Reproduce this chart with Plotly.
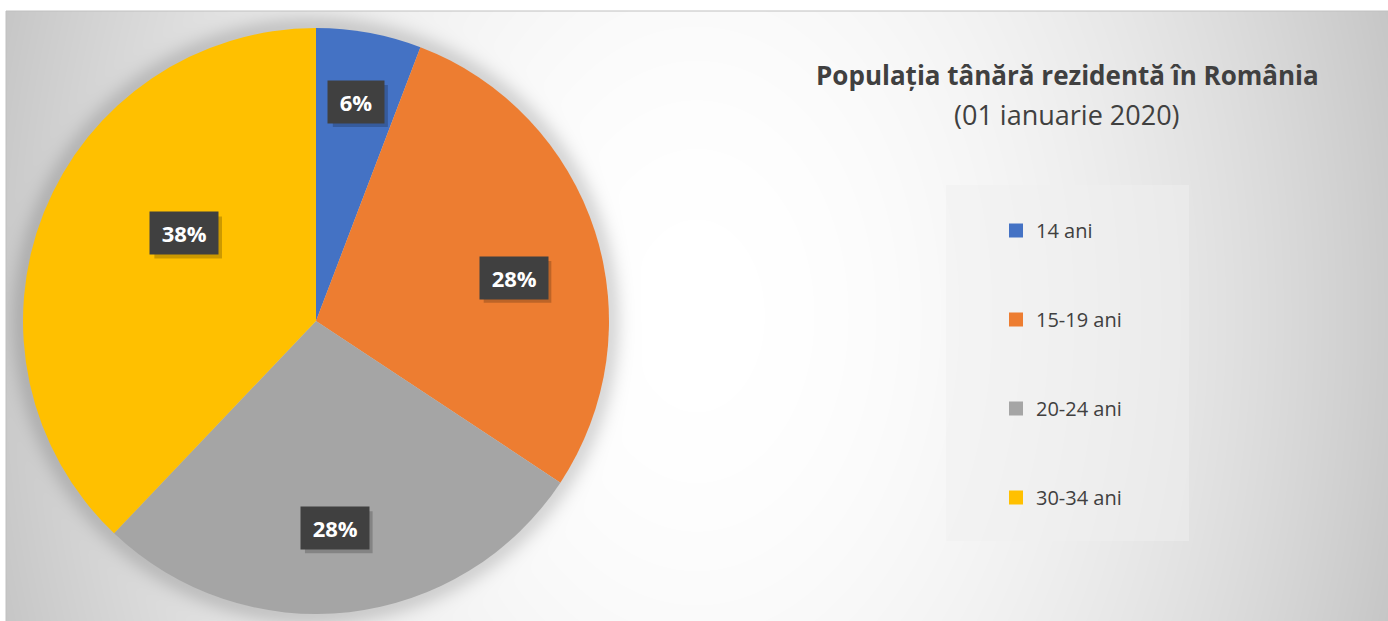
import base64
import struct
import zlib

import numpy as np
import plotly.graph_objects as go

# ---------------- data ----------------
categories = ["14 ani", "15-19 ani", "20-24 ani", "30-34 ani"]
shares = [5.8, 28.5, 27.8, 37.9]          # percent of the young resident population
colors = ["#4472C4", "#ED7D31", "#A5A5A5", "#FFC000"]
title_main = "Populația tânără rezidentă în România"
title_sub = "(01 ianuarie 2020)"

# ---------------- style / layout constants ----------------
W, H = 1388, 621
FONT = "Open Sans"
TXT = "#404040"
CX, CY, R = 316, 321, 293                 # pie centre and radius (px)
FRAME_X, FRAME_Y = 6, 11                  # top-left of chart frame (px)
label_r = [0.76, 0.69, 0.71, 0.54]        # radial position of data labels (fraction of R)
label_turn = [0.0, 5.5, 1.3, 11.8]        # angular nudge of data labels (deg)
LBL_SIZE = 22
LBL_PAD = 6
# approximate advance widths (em) of Open Sans Bold, used for the label shadows
ADV = {"%": 0.866, "\u00a0": 0.26}


def px_x(x):
    return x / W


def px_y(y):
    return 1 - y / H


# ---------------- background gradient (PNG built in memory) ----------------
def make_png(gray):
    h, w = gray.shape
    g = gray.astype(np.int16)
    sub = np.empty_like(g)
    sub[:, 0] = g[:, 0]
    sub[:, 1:] = (g[:, 1:] - g[:, :-1]) % 256
    raw = b"".join(b"\x01" + sub[j].astype(np.uint8).tobytes() for j in range(h))

    def chunk(tag, data):
        c = struct.pack(">I", len(data)) + tag + data
        return c + struct.pack(">I", zlib.crc32(tag + data) & 0xFFFFFFFF)

    png = b"\x89PNG\r\n\x1a\n"
    png += chunk(b"IHDR", struct.pack(">IIBBBBB", w, h, 8, 0, 0, 0, 0))
    png += chunk(b"IDAT", zlib.compress(raw, 9))
    png += chunk(b"IEND", b"")
    return png


fw, fh = W - FRAME_X, H - FRAME_Y
xs = FRAME_X + np.arange(fw) + 0.5
ys = FRAME_Y + np.arange(fh) + 0.5
X, Y = np.meshgrid(xs, ys)
u = (X - 697) / 691
v = (Y - 316) / 305
val = 255 - 52 * u ** 2 - 5 * v ** 2
d = np.sqrt((X - CX) ** 2 + (Y - CY) ** 2)
shadow = 1 - 0.14 * np.exp(-((np.clip(d - R, 0, None)) / 14) ** 2)
val = np.clip(val * shadow, 0, 255).round().astype(np.uint8)
bg_src = "data:image/png;base64," + base64.b64encode(make_png(val)).decode()

# ---------------- figure ----------------
fig = go.Figure()

fig.add_trace(go.Pie(
    labels=categories,
    values=shares,
    marker=dict(colors=colors, line=dict(width=0)),
    sort=False,
    direction="clockwise",
    rotation=0,
    textinfo="none",
    hoverinfo="label+percent",
    showlegend=False,
    domain=dict(x=[px_x(CX - R), px_x(CX + R)], y=[px_y(CY + R), px_y(CY - R)]),
))

# legend entries (square swatches), one group each so they can be spaced out
for lab, col in zip(categories, colors):
    fig.add_trace(go.Scatter(
        x=[None], y=[None], mode="markers", name=lab, legendgroup=lab,
        marker=dict(symbol="square", size=14, color=col),
        hoverinfo="skip", showlegend=True,
    ))

shapes = [
    dict(type="rect", xref="paper", yref="paper",
         x0=px_x(FRAME_X), x1=1.02, y0=-0.02, y1=px_y(FRAME_Y),
         line=dict(color="#C0C0C0", width=1), fillcolor="rgba(0,0,0,0)", layer="below"),
    dict(type="rect", xref="paper", yref="paper",
         x0=px_x(946), x1=px_x(1189), y0=px_y(541), y1=px_y(185),
         line=dict(width=0), fillcolor="rgba(240,240,240,0.5)", layer="below"),
]

# data labels
total = sum(shares)
annotations = []
cum = 0.0
for i, s in enumerate(shares):
    mid = (cum + s / 2) / total * 360 + label_turn[i]
    cum += s
    th = np.radians(mid)
    lx = CX + label_r[i] * R * np.sin(th)
    ly = CY - label_r[i] * R * np.cos(th)
    raw_txt = f"\u00a0{round(s / total * 100)}%\u00a0"
    # soft drop shadow behind the label box
    tw = sum(ADV.get(ch, 0.572) for ch in raw_txt) * LBL_SIZE
    bw, bh = tw + 2 * LBL_PAD, LBL_SIZE * 1.36 + 2 * LBL_PAD
    shapes.append(dict(
        type="rect", xref="paper", yref="paper", layer="above",
        x0=px_x(lx - bw / 2 + 4), x1=px_x(lx + bw / 2 + 4),
        y0=px_y(ly + bh / 2 + 4), y1=px_y(ly - bh / 2 + 4),
        line=dict(width=0), fillcolor="rgba(0,0,0,0.2)",
    ))
    annotations.append(dict(
        x=px_x(lx), y=px_y(ly), xref="paper", yref="paper",
        xanchor="center", yanchor="middle", text=f"<b>{raw_txt}</b>",
        showarrow=False,
        font=dict(family=FONT, size=LBL_SIZE, color="white"),
        bgcolor="#404040", borderpad=LBL_PAD,
    ))

annotations.append(dict(
    x=px_x(1067), y=px_y(75), xref="paper", yref="paper", showarrow=False,
    text=f"<b>{title_main}</b>", font=dict(family=FONT, size=26, color=TXT),
    xanchor="center", yanchor="middle",
))
annotations.append(dict(
    x=px_x(1067), y=px_y(115), xref="paper", yref="paper", showarrow=False,
    text=title_sub, font=dict(family=FONT, size=27, color=TXT),
    xanchor="center", yanchor="middle",
))

fig.update_layout(
    width=W, height=H, autosize=False,
    margin=dict(l=0, r=0, t=0, b=0, pad=0),
    paper_bgcolor="white", plot_bgcolor="rgba(0,0,0,0)",
    xaxis=dict(visible=False), yaxis=dict(visible=False),
    font=dict(family=FONT, color=TXT),
    showlegend=True,
    legend=dict(
        x=px_x(996), xanchor="left", y=px_y(211), yanchor="top",
        bgcolor="rgba(0,0,0,0)", borderwidth=0,
        font=dict(family=FONT, size=20, color=TXT),
        traceorder="grouped", tracegroupgap=60, itemclick=False, itemdoubleclick=False,
    ),
    images=[dict(
        source=bg_src, xref="paper", yref="paper",
        x=px_x(FRAME_X), y=px_y(FRAME_Y), sizex=fw / W, sizey=fh / H,
        xanchor="left", yanchor="top", sizing="stretch", layer="below",
    )],
    shapes=shapes,
    annotations=annotations,
)

fig.write_html(
    "out.html",
    config=dict(displayModeBar=False, responsive=False),
    post_script="document.body.style.margin='0';document.body.style.overflow='hidden';",
)
